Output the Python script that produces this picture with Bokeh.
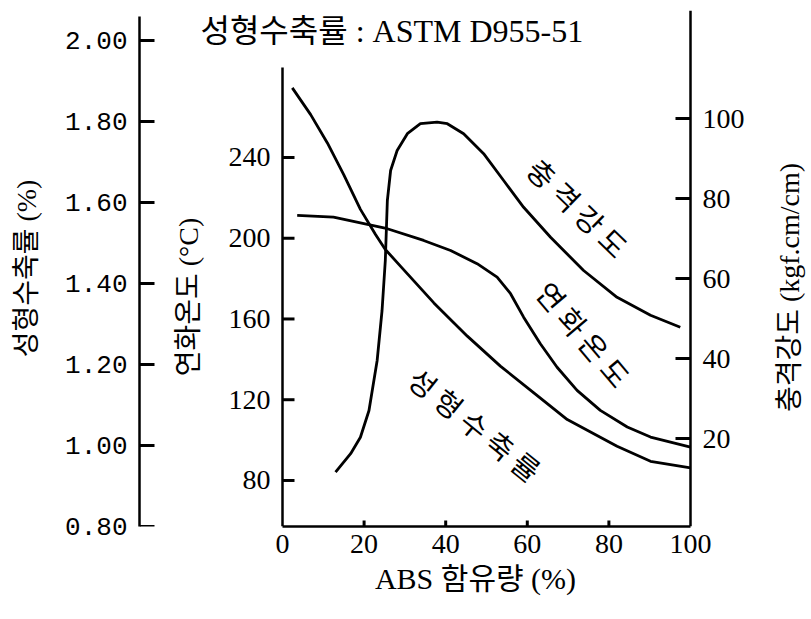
import math
from bokeh.plotting import figure
from bokeh.models import Range1d, LinearAxis, FixedTicker, Label, PrintfTickFormatter
from bokeh.embed import file_html
from bokeh.resources import INLINE
from bokeh.core.properties import value

# ---- data ----
abs_shrink = [2.4, 6.9, 11.0, 15.0, 19.1, 22.8, 25.2, 28.9, 37.1, 45.3, 53.4, 61.6, 69.8, 82.0, 90.2, 100.0]
shrinkage = [1.883, 1.817, 1.747, 1.669, 1.583, 1.521, 1.484, 1.443, 1.352, 1.270, 1.196, 1.130, 1.064, 0.998, 0.961, 0.945]

abs_soft = [3.6, 12.5, 25.7, 34.6, 41.2, 47.7, 52.6, 55.9, 59.1, 63.2, 67.3, 72.2, 77.9, 84.5, 90.2, 100.0]
softening = [211.3, 210.4, 204.7, 198.9, 193.9, 187.4, 180.7, 172.5, 160.9, 147.7, 136.1, 124.6, 114.7, 106.5, 101.5, 96.5]

abs_impact = [13.0, 16.7, 19.1, 21.2, 23.2, 24.4, 25.2, 25.7, 26.5, 28.1, 30.6, 33.8, 37.9, 40.4, 44.4, 49.3,
              54.2, 59.1, 65.7, 73.8, 82.0, 90.2, 97.5]
impact = [11.6, 16.2, 20.3, 27.0, 39.5, 52.0, 64.5, 79.5, 87.0, 92.0, 96.2, 98.7, 99.1, 98.7, 96.2, 91.2,
          84.5, 77.8, 70.3, 62.0, 55.3, 50.8, 47.8]

x_ticks = [0, 20, 40, 60, 80, 100]
shrink_ticks = [0.8, 1.0, 1.2, 1.4, 1.6, 1.8, 2.0]
temp_ticks = [80, 120, 160, 200, 240]
impact_ticks = [20, 40, 60, 80, 100]

curve_names = ["충격강도", "연화온도", "성형수축률"]
title_text = "성형수축률 : ASTM D955-51"
impact_axis_title = "충격강도 (kgf.cm/cm)"

# ---- styling / layout ----
SERIF = "Liberation Serif"
MONO = "Liberation Mono"
KR = "Noto Sans CJK KR"
MIX = "Liberation Serif, Noto Sans CJK KR"
LW = 2.5
CURVE_W = 2.8

x_range = (-35.05, 129.66)     # frame also hosts the far-left axis, title and right-axis title
shrink_range = (0.80, 2.074)
temp_range = (57.2, 312.8)
impact_range = (-2.0, 127.0)

def style_axis(ax, font=SERIF, size="28px"):
    ax.axis_line_width = LW
    ax.axis_line_color = "black"
    ax.major_tick_in = 0
    ax.major_tick_out = 0
    ax.minor_tick_line_color = None
    ax.major_label_text_font = font
    ax.major_label_text_font_size = size
    ax.major_label_text_color = "black"
    ax.major_label_standoff = 12
    ax.axis_label_text_font_style = "normal"
    ax.axis_label_text_color = "black"
    ax.axis_label_text_font = MIX

p = figure(width=811, height=619, x_range=Range1d(*x_range), y_range=Range1d(*temp_range),
           output_backend="svg", toolbar_location=None,
           min_border_left=139, min_border_right=0, min_border_top=10, min_border_bottom=93)
p.extra_y_ranges = {"shrink": Range1d(*shrink_range), "impact": Range1d(*impact_range)}
p.outline_line_color = None
p.grid.visible = False

# inner left axis: softening temperature, drawn at x = 0
yt = p.yaxis[0]
style_axis(yt)
yt.fixed_location = 0
yt.ticker = FixedTicker(ticks=temp_ticks)
yt.bounds = (temp_range[0], 284.7)
yt.axis_label = "연화온도 (°C)"
yt.axis_label_text_font_size = "28px"
yt.axis_label_standoff = 22

# far-left axis: molding shrinkage
ys = LinearAxis(y_range_name="shrink")
style_axis(ys, MONO, "26px")
ys.ticker = FixedTicker(ticks=shrink_ticks)
ys.formatter = PrintfTickFormatter(format="%.2f")
ys.bounds = (0.8, 2.06)
ys.axis_label = "성형수축률 (%)"
ys.axis_label_text_font_size = "28px"
ys.axis_label_standoff = 20
p.add_layout(ys, "left")

# right axis: impact strength, drawn at x = 100
yr = LinearAxis(y_range_name="impact")
style_axis(yr)
yr.fixed_location = 100
yr.ticker = FixedTicker(ticks=impact_ticks)
p.add_layout(yr, "right")

xa = p.xaxis[0]
style_axis(xa)
xa.ticker = FixedTicker(ticks=x_ticks)
xa.bounds = (0, 100)
xa.major_label_standoff = 8
xa.axis_label = "ABS 함유량 (%)"
xa.axis_label_text_font_size = "30px"
xa.axis_label_standoff = 6

# tick marks pointing into the plot, placed on each axis' own scale
tick_style = dict(length_units="screen", line_width=3, line_color="black")
p.ray(x=x_range[0], y=shrink_ticks, length=15, angle=0, y_range_name="shrink", **tick_style)
p.ray(x=0, y=temp_ticks, length=12, angle=0, **tick_style)
p.ray(x=100, y=impact_ticks, length=15, angle=math.pi, y_range_name="impact", **tick_style)
p.ray(x=x_ticks[1:-1], y=temp_range[0], length=6, angle=math.pi / 2, **tick_style)

# curves
p.line(abs_shrink, shrinkage, y_range_name="shrink", line_width=CURVE_W, line_color="black")
p.line(abs_soft, softening, line_width=CURVE_W, line_color="black")
p.line(abs_impact, impact, y_range_name="impact", line_width=CURVE_W, line_color="black")

# curve labels (rotated along the curves)
label_x = [72.6, 74.0, 47.3]
label_y = [215.4, 152.7, 108.1]
label_angle = [-0.77, -0.87, -0.68]
p.text(x=label_x, y=label_y, text=[" ".join(n) for n in curve_names], angle=label_angle,
       text_font=value(KR), text_font_size="29px", text_align="center", text_baseline="middle",
       text_color="black")

# right axis title, reading bottom to top
p.text(x=[124.3], y=[175.6], text=[impact_axis_title], angle=[math.pi / 2],
       text_font=value(MIX), text_font_size="28px", text_align="center", text_baseline="middle",
       text_color="black")

p.add_layout(Label(x=-20.1, y=302.4, text=title_text, text_font=MIX, text_font_size="32px",
                   text_baseline="middle", text_align="left", text_color="black"))

open("out.html", "w").write(file_html(p, INLINE))
